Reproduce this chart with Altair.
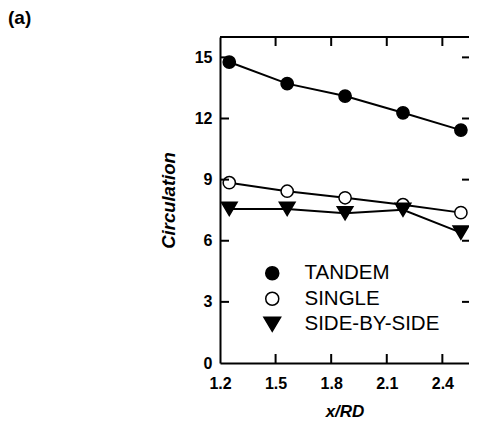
import altair as alt
import pandas as pd

x_vals = [1.25, 1.5625, 1.875, 2.1875, 2.5]
tandem = [14.77, 13.71, 13.10, 12.28, 11.43]
single = [8.85, 8.43, 8.11, 7.77, 7.38]
side_by_side = [7.56, 7.56, 7.35, 7.52, 6.40]
series_names = ["TANDEM", "SINGLE", "SIDE-BY-SIDE"]
x_ticks = [1.2, 1.5, 1.8, 2.1, 2.4]
y_ticks = [0, 3, 6, 9, 12, 15]

rows = []
for name, vals in zip(series_names, [tandem, single, side_by_side]):
    for xv, yv in zip(x_vals, vals):
        rows.append({"x": xv, "y": yv, "series": name})
df = pd.DataFrame(rows)

W, H = 249, 326
FONT = "Liberation Sans"
xscale = alt.Scale(domain=[1.2, 1.2 + W / 185.3], nice=False, zero=False)
yscale = alt.Scale(domain=[0, 16], nice=False)
tri_down = "M-1.28,-1.08L1.28,-1.08L0,1.08Z"

xenc = alt.X("x:Q", scale=xscale, axis=alt.Axis(
    values=x_ticks, format=".1f", ticks=False, tickSize=0, grid=False, labelFlush=False,
    domainColor="black", domainWidth=2, labelPadding=12,
    labelFont=FONT, labelFontSize=16, labelFontWeight="bold", labelColor="black",
    title="x/RD", titleFont=FONT, titleFontSize=17, titleFontWeight="bold",
    titleFontStyle="italic", titleColor="black", titlePadding=12))
yenc = alt.Y("y:Q", scale=yscale, axis=alt.Axis(
    values=y_ticks, ticks=False, tickSize=0, grid=False, labelFlush=False,
    domainColor="black", domainWidth=2, labelPadding=8,
    labelFont=FONT, labelFontSize=16, labelFontWeight="bold", labelColor="black",
    title="Circulation", titleFont=FONT, titleFontSize=18.5, titleFontWeight="bold",
    titleFontStyle="italic", titleColor="black", titlePadding=16))

base = alt.Chart(df)
lines = base.mark_line(color="black", strokeWidth=2).encode(
    x=xenc, y=yenc, detail="series:N", order="x:Q")
points = base.mark_point(filled=True, strokeWidth=1.5, opacity=1, size=150).encode(
    x=alt.X("x:Q", scale=xscale),
    y=alt.Y("y:Q", scale=yscale),
    fill=alt.Fill("series:N", scale=alt.Scale(domain=series_names, range=["black", "white", "black"]),
                  legend=alt.Legend(title=None)),
    stroke=alt.Stroke("series:N", scale=alt.Scale(domain=series_names, range=["black", "black", "black"]),
                      legend=alt.Legend(title=None)),
    shape=alt.Shape("series:N", scale=alt.Scale(domain=series_names, range=["circle", "circle", tri_down]),
                    legend=alt.Legend(title=None)),
)

xt = pd.DataFrame({"t": x_ticks[1:]})
yt = pd.DataFrame({"t": y_ticks[1:]})
bottom_ticks = alt.Chart(xt).mark_rule(color="black", strokeWidth=2).encode(
    x=alt.X("t:Q", scale=xscale), y=alt.value(H), y2=alt.value(H - 9))
top_ticks = alt.Chart(xt).mark_rule(color="black", strokeWidth=2).encode(
    x=alt.X("t:Q", scale=xscale), y=alt.value(0), y2=alt.value(9))
left_ticks = alt.Chart(yt).mark_rule(color="black", strokeWidth=2).encode(
    y=alt.Y("t:Q", scale=yscale), x=alt.value(0), x2=alt.value(9))
right_ticks = alt.Chart(yt).mark_rule(color="black", strokeWidth=2).encode(
    y=alt.Y("t:Q", scale=yscale), x=alt.value(W - 7), x2=alt.value(W))
top_spine = alt.Chart(xt).mark_rule(color="black", strokeWidth=2).encode(
    x=alt.value(0), x2=alt.value(W), y=alt.value(0))
label = alt.Chart(pd.DataFrame({"s": ["(a)"]})).mark_text(
    align="left", baseline="top", font=FONT, fontSize=19, fontWeight="bold", color="black"
).encode(text="s:N", x=alt.value(-212), y=alt.value(-28))

chart = alt.layer(lines, points, bottom_ticks, top_ticks, left_ticks, right_ticks, top_spine, label).properties(
    width=W, height=H,
    autosize=alt.AutoSizeParams(type="none"),
    padding={"left": 212, "top": 29, "right": 0, "bottom": 62},
).configure_view(stroke=None).configure_legend(
    orient="none", legendX=42, legendY=226, labelFont=FONT, labelFontSize=20.5,
    labelColor="black", symbolSize=170, symbolStrokeColor="black", symbolStrokeWidth=1.5,
    labelOffset=22, rowPadding=4.5, padding=0,
)

chart.save("out.html", embed_options={"renderer": "svg", "actions": False})
